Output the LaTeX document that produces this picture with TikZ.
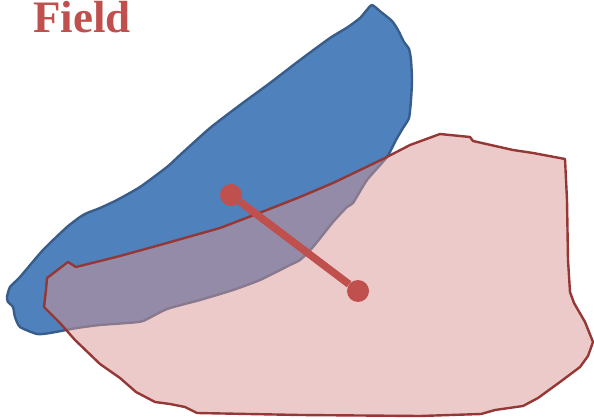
\documentclass[tikz,border=0pt]{standalone}
\usepackage{fontspec}
\setmainfont{Liberation Serif}
\usepackage{tikz}
\usepackage{xcolor}
\definecolor{fieldblue}{RGB}{79,129,189}
\definecolor{fieldedge}{RGB}{56,93,138}
\definecolor{zonered}{RGB}{217,150,148}
\definecolor{zoneedge}{RGB}{149,55,53}
\definecolor{darkred}{RGB}{192,80,77}

\begin{document}
\begin{tikzpicture}[x=1pt, y=-1pt, line join=round,
  endpoint/.style={circle, fill=darkred, inner sep=0pt, minimum size=22pt}]
\useasboundingbox (0,0) rectangle (594,419);
\node[anchor=base west, text=darkred, inner sep=0pt, font=\fontsize{45}{45}\selectfont\bfseries] (title) at (33,33) {Field};
% blue field
\draw[fill=fieldblue, draw=fieldedge, line width=2.4pt] plot[smooth cycle, tension=0.35] coordinates {
  (372,5) (381,12) (392,21) (398,30) (404,42) (409,49) (411,60) (412,80) (411,100) (409,118)
  (403,128) (396,140) (387,157) (367,180) (353,203) (347,207) (333,222) (313,247) (300,260)
  (290,265) (260,280) (233,290) (200,300) (167,309) (143,321) (127,323) (100,325) (77,328)
  (50,333) (37,334) (20,327) (15,317) (13,307) (8,302) (7,297) (10,287) (20,277) (43,250)
  (67,227) (80,217) (87,213) (100,208) (117,200) (140,187) (167,167) (180,155) (210,128)
  (240,105) (270,83) (300,60) (330,38) (348,27) (360,18) (366,11)};
% red zone
\draw[fill=zonered, fill opacity=0.5, draw=zoneedge, line width=2.4pt]
  (47,278) -- (68,262) -- (76,267) -- (120,256) -- (167,243) -- (220,228) -- (267,210)
  -- (300,197) -- (333,183) -- (383,159) -- (410,145) -- (440,134) -- (470,137) -- (473,141)
  -- (513,150) -- (533,153) -- (565,159) -- (567,200) -- (568,260) -- (570,292) -- (574,303)
  -- (585,322) -- (593,342) -- (588,356) -- (580,367) -- (560,382) -- (538,398) -- (523,406)
  -- (495,410) -- (481,414) -- (420,416) -- (300,415) -- (197,413) -- (185,407) -- (170,404)
  -- (155,402) -- (136,392) -- (120,378) -- (100,364) -- (75,340) -- (60,323) -- (44,307)
  -- (46,290) -- cycle;
\node[endpoint] (src) at (231,195) {};
\node[endpoint] (dst) at (358,291) {};
\draw[darkred, line width=7.5pt] (src) -- (dst);
\end{tikzpicture}
\end{document}
